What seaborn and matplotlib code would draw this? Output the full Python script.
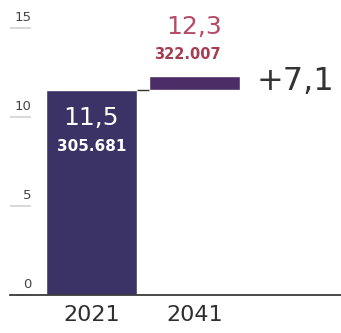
import matplotlib
matplotlib.use("Agg")
import matplotlib.pyplot as plt
import matplotlib.transforms as mtransforms
import seaborn as sns
import pandas as pd

# Population figures (millions) for the two reference years
years = ["2021", "2041"]
values = [11.5, 12.3]
value_labels = ["11,5", "12,3"]
count_labels = ["305.681", "322.007"]
change_label = "+7,1"
yticks = [0, 5, 10, 15]

sns.set_theme(style="white")
plt.rcParams["font.family"] = ["DejaVu Sans"]

fig = plt.figure(figsize=(3.41, 3.33), dpi=100)
ax = fig.add_axes([10 / 341, 38 / 333, 331 / 341, 267 / 333])

df_base = pd.DataFrame({"year": [years[0]], "value": [values[0]]})
df_step = pd.DataFrame({"year": [years[1]], "value": [values[1] - values[0]]})

# First year: full bar from zero
sns.barplot(data=df_base, x="year", y="value", order=years, color="#3b3265",
            saturation=1, width=0.883, errorbar=None, ax=ax)
# Second year: floating step starting at the previous total
sns.barplot(data=df_step, x="year", y="value", order=years, color="#4d2d66",
            saturation=1, width=0.883, errorbar=None, bottom=values[0], ax=ax)

# Connector between the two bars
ax.plot([0 + 0.883 / 2, 1 - 0.883 / 2], [values[0], values[0]],
        color="#333333", lw=1.0, solid_capstyle="butt")

ax.set_xlim(-0.791, 2.422)
ax.set_ylim(0, 15)
for side in ["left", "right", "top"]:
    ax.spines[side].set_visible(False)
ax.spines["bottom"].set_color("#3a3a3a")
ax.spines["bottom"].set_linewidth(1.3)

ax.set_xlabel("")
ax.set_ylabel("")
ax.set_xticks(range(len(years)))
ax.set_xticklabels(years)
ax.tick_params(axis="x", length=0, pad=7, labelsize=16, labelcolor="#2e2e2e")

ax.set_yticks(yticks)
ax.set_yticklabels([str(t) for t in yticks])
ax.tick_params(axis="y", direction="in", length=15, width=1.4, color="#d8d8d8",
               pad=-15.5, labelsize=9.5, labelcolor="#444444", left=True)
offset = mtransforms.ScaledTranslation(0, 4 / 100, fig.dpi_scale_trans)
for lab in ax.get_yticklabels():
    lab.set_verticalalignment("bottom")
    lab.set_transform(lab.get_transform() + offset)

# Value annotations
ax.text(0, 9.97, value_labels[0], ha="center", va="center", fontsize=18,
        color="white")
ax.text(0, 8.37, count_labels[0], ha="center", va="center", fontsize=11,
        fontweight="bold", color="white")
ax.text(1, 15.05, value_labels[1], ha="center", va="center", fontsize=18,
        color="#b44c68", clip_on=False)
ax.text(0.93, 13.5, count_labels[1], ha="center", va="center", fontsize=10.5,
        fontweight="bold", color="#a63c50", clip_on=False)
ax.text(1.607, 12.0, change_label, ha="left", va="center", fontsize=23,
        color="#333333", clip_on=False)

fig.savefig("out.png", dpi=100)
